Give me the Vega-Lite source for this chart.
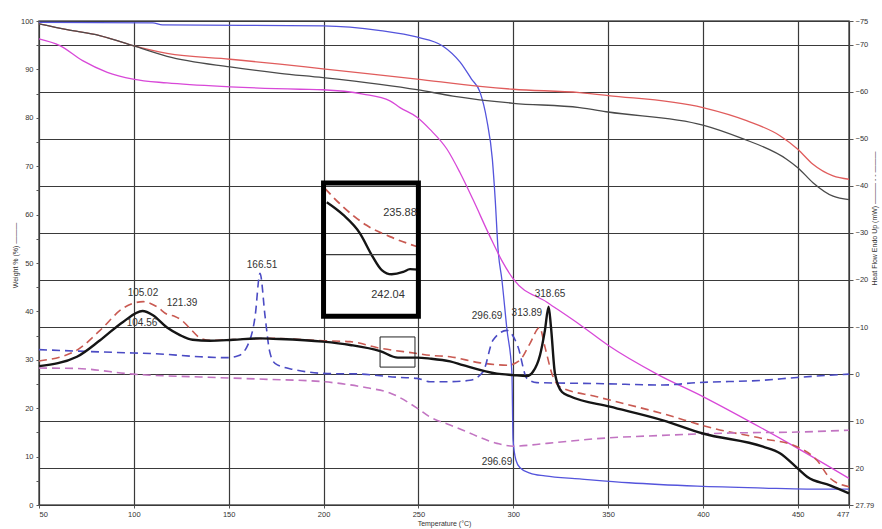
{
  "$schema": "https://vega.github.io/schema/vega-lite/v6.json",
  "width": 810,
  "height": 484,
  "autosize": {"type": "none"},
  "padding": {"left": 39, "top": 21, "right": 33, "bottom": 24},
  "background": "white",
  "config": {
    "font": "Liberation Sans",
    "view": {"stroke": "#555555", "strokeWidth": 1.5},
    "axis": {"labelColor": "#333333", "titleColor": "#333333", "tickColor": "#555555", "domain": false, "labelFontSize": 7.5, "titleFontSize": 7, "titleFontWeight": "normal"}
  },
  "datasets": {
    "tga": [
      {"T": 50, "W": 99.7, "s": "wt_blue"}, {"T": 110, "W": 99.6, "s": "wt_blue"}, {"T": 115, "W": 99.2, "s": "wt_blue"}, {"T": 200, "W": 99.0, "s": "wt_blue"}, {"T": 230, "W": 98.0, "s": "wt_blue"}, {"T": 249, "W": 96.7, "s": "wt_blue"}, {"T": 263, "W": 94.8, "s": "wt_blue"}, {"T": 272, "W": 91.5, "s": "wt_blue"}, {"T": 278, "W": 88.0, "s": "wt_blue"}, {"T": 282.5, "W": 85.3, "s": "wt_blue"}, {"T": 286, "W": 79.7, "s": "wt_blue"}, {"T": 289, "W": 71.4, "s": "wt_blue"}, {"T": 290.5, "W": 63.1, "s": "wt_blue"}, {"T": 292, "W": 52.8, "s": "wt_blue"}, {"T": 294, "W": 46.6, "s": "wt_blue"}, {"T": 296.7, "W": 36.2, "s": "wt_blue"}, {"T": 299.3, "W": 27.3, "s": "wt_blue"}, {"T": 299.9, "W": 13.5, "s": "wt_blue"}, {"T": 301.4, "W": 9.3, "s": "wt_blue"}, {"T": 303.6, "W": 7.7, "s": "wt_blue"}, {"T": 308.8, "W": 6.6, "s": "wt_blue"}, {"T": 316.7, "W": 6.0, "s": "wt_blue"}, {"T": 335, "W": 5.4, "s": "wt_blue"}, {"T": 361, "W": 4.6, "s": "wt_blue"}, {"T": 397, "W": 3.9, "s": "wt_blue"}, {"T": 432, "W": 3.5, "s": "wt_blue"}, {"T": 455, "W": 3.3, "s": "wt_blue"}, {"T": 477, "W": 3.3, "s": "wt_blue"},
      {"T": 50, "W": 99.4, "s": "wt_red"}, {"T": 64.8, "W": 98.2, "s": "wt_red"}, {"T": 82, "W": 97.0, "s": "wt_red"}, {"T": 99.6, "W": 94.9, "s": "wt_red"}, {"T": 117.5, "W": 93.3, "s": "wt_red"}, {"T": 150.7, "W": 92.1, "s": "wt_red"}, {"T": 177, "W": 91.1, "s": "wt_red"}, {"T": 199.7, "W": 90.1, "s": "wt_red"}, {"T": 249.3, "W": 88.0, "s": "wt_red"}, {"T": 282.5, "W": 86.5, "s": "wt_red"}, {"T": 300, "W": 85.9, "s": "wt_red"}, {"T": 335, "W": 85.2, "s": "wt_red"}, {"T": 350, "W": 84.6, "s": "wt_red"}, {"T": 400, "W": 82.1, "s": "wt_red"}, {"T": 423, "W": 79.4, "s": "wt_red"}, {"T": 440.6, "W": 76.3, "s": "wt_red"}, {"T": 450, "W": 73.5, "s": "wt_red"}, {"T": 458, "W": 70.4, "s": "wt_red"}, {"T": 468.6, "W": 68.0, "s": "wt_red"}, {"T": 477, "W": 67.3, "s": "wt_red"},
      {"T": 50, "W": 99.4, "s": "wt_black"}, {"T": 64.8, "W": 98.2, "s": "wt_black"}, {"T": 82, "W": 97.0, "s": "wt_black"}, {"T": 99.6, "W": 94.9, "s": "wt_black"}, {"T": 117.5, "W": 92.7, "s": "wt_black"}, {"T": 150.7, "W": 90.5, "s": "wt_black"}, {"T": 177, "W": 89.2, "s": "wt_black"}, {"T": 199.7, "W": 88.3, "s": "wt_black"}, {"T": 229.8, "W": 86.9, "s": "wt_black"}, {"T": 249.3, "W": 85.8, "s": "wt_black"}, {"T": 268.2, "W": 84.5, "s": "wt_black"}, {"T": 300, "W": 83.0, "s": "wt_black"}, {"T": 335, "W": 82.1, "s": "wt_black"}, {"T": 350, "W": 81.2, "s": "wt_black"}, {"T": 400, "W": 78.5, "s": "wt_black"}, {"T": 419.5, "W": 75.9, "s": "wt_black"}, {"T": 444.3, "W": 71.4, "s": "wt_black"}, {"T": 450, "W": 69.7, "s": "wt_black"}, {"T": 458, "W": 66.6, "s": "wt_black"}, {"T": 468.6, "W": 63.8, "s": "wt_black"}, {"T": 477, "W": 63.1, "s": "wt_black"},
      {"T": 50, "W": 96.3, "s": "wt_magenta"}, {"T": 61, "W": 94.9, "s": "wt_magenta"}, {"T": 73, "W": 91.8, "s": "wt_magenta"}, {"T": 86, "W": 89.4, "s": "wt_magenta"}, {"T": 99.6, "W": 88.0, "s": "wt_magenta"}, {"T": 117.5, "W": 87.2, "s": "wt_magenta"}, {"T": 150.7, "W": 86.4, "s": "wt_magenta"}, {"T": 187.6, "W": 85.9, "s": "wt_magenta"}, {"T": 199.7, "W": 85.8, "s": "wt_magenta"}, {"T": 220.8, "W": 84.9, "s": "wt_magenta"}, {"T": 235, "W": 83.5, "s": "wt_magenta"}, {"T": 240.3, "W": 82.1, "s": "wt_magenta"}, {"T": 249.3, "W": 80.1, "s": "wt_magenta"}, {"T": 256.1, "W": 77.6, "s": "wt_magenta"}, {"T": 265.1, "W": 73.5, "s": "wt_magenta"}, {"T": 271.9, "W": 68.7, "s": "wt_magenta"}, {"T": 278.8, "W": 63.1, "s": "wt_magenta"}, {"T": 287.7, "W": 55.5, "s": "wt_magenta"}, {"T": 294, "W": 50.5, "s": "wt_magenta"}, {"T": 300, "W": 46.7, "s": "wt_magenta"}, {"T": 317.8, "W": 41.9, "s": "wt_magenta"}, {"T": 335, "W": 37.3, "s": "wt_magenta"}, {"T": 350, "W": 33.0, "s": "wt_magenta"}, {"T": 376, "W": 27.0, "s": "wt_magenta"}, {"T": 400, "W": 22.4, "s": "wt_magenta"}, {"T": 423, "W": 17.6, "s": "wt_magenta"}, {"T": 450, "W": 11.7, "s": "wt_magenta"}, {"T": 477, "W": 5.5, "s": "wt_magenta"}
    ],
    "dsc": [
      {"T": 50, "H": -2.8, "s": "hf_red"}, {"T": 70, "H": -5.1, "s": "hf_red"}, {"T": 82.2, "H": -9.3, "s": "hf_red"}, {"T": 94.3, "H": -14.0, "s": "hf_red"}, {"T": 105.02, "H": -15.4, "s": "hf_red"}, {"T": 112.2, "H": -14.3, "s": "hf_red"}, {"T": 117.5, "H": -12.7, "s": "hf_red"}, {"T": 121.39, "H": -12.3, "s": "hf_red"}, {"T": 125, "H": -11.5, "s": "hf_red"}, {"T": 129.6, "H": -9.7, "s": "hf_red"}, {"T": 134.9, "H": -7.7, "s": "hf_red"}, {"T": 140.1, "H": -7.2, "s": "hf_red"}, {"T": 173.4, "H": -7.6, "s": "hf_red"}, {"T": 199.7, "H": -7.1, "s": "hf_red"}, {"T": 214, "H": -6.9, "s": "hf_red"}, {"T": 229.8, "H": -5.5, "s": "hf_red"}, {"T": 249.3, "H": -4.4, "s": "hf_red"}, {"T": 256.1, "H": -4.0, "s": "hf_red"}, {"T": 266.7, "H": -3.7, "s": "hf_red"}, {"T": 282.5, "H": -2.4, "s": "hf_red"}, {"T": 297.2, "H": -1.9, "s": "hf_red"}, {"T": 303.6, "H": -3.0, "s": "hf_red"}, {"T": 308.8, "H": -6.5, "s": "hf_red"}, {"T": 313.89, "H": -9.9, "s": "hf_red"}, {"T": 316.7, "H": -5.8, "s": "hf_red"}, {"T": 320.4, "H": -0.1, "s": "hf_red"}, {"T": 324.6, "H": 2.7, "s": "hf_red"}, {"T": 344.1, "H": 4.8, "s": "hf_red"}, {"T": 378.9, "H": 8.4, "s": "hf_red"}, {"T": 405.3, "H": 11.5, "s": "hf_red"}, {"T": 431.7, "H": 13.7, "s": "hf_red"}, {"T": 449.6, "H": 15.4, "s": "hf_red"}, {"T": 460.1, "H": 18.3, "s": "hf_red"}, {"T": 467, "H": 22.1, "s": "hf_red"}, {"T": 477, "H": 23.9, "s": "hf_red"},
      {"T": 50, "H": -5.2, "s": "hf_blue"}, {"T": 99.6, "H": -4.5, "s": "hf_blue"}, {"T": 108.5, "H": -4.4, "s": "hf_blue"}, {"T": 134.9, "H": -3.7, "s": "hf_blue"}, {"T": 149, "H": -3.5, "s": "hf_blue"}, {"T": 155, "H": -3.9, "s": "hf_blue"}, {"T": 159.6, "H": -5.8, "s": "hf_blue"}, {"T": 163.9, "H": -12.2, "s": "hf_blue"}, {"T": 166.51, "H": -21.4, "s": "hf_blue"}, {"T": 169.2, "H": -12.2, "s": "hf_blue"}, {"T": 171.5, "H": -5.0, "s": "hf_blue"}, {"T": 174.4, "H": -2.3, "s": "hf_blue"}, {"T": 184, "H": -1.0, "s": "hf_blue"}, {"T": 205, "H": -0.1, "s": "hf_blue"}, {"T": 214, "H": -0.1, "s": "hf_blue"}, {"T": 240.3, "H": 0.7, "s": "hf_blue"}, {"T": 249.3, "H": 0.9, "s": "hf_blue"}, {"T": 256.1, "H": 1.6, "s": "hf_blue"}, {"T": 266.7, "H": 1.6, "s": "hf_blue"}, {"T": 277.2, "H": 1.3, "s": "hf_blue"}, {"T": 284.1, "H": -0.5, "s": "hf_blue"}, {"T": 289.3, "H": -7.2, "s": "hf_blue"}, {"T": 296.69, "H": -9.3, "s": "hf_blue"}, {"T": 302.5, "H": -5.8, "s": "hf_blue"}, {"T": 307.2, "H": 0.9, "s": "hf_blue"}, {"T": 312.5, "H": 1.8, "s": "hf_blue"}, {"T": 344.1, "H": 2.0, "s": "hf_blue"}, {"T": 378.9, "H": 2.3, "s": "hf_blue"}, {"T": 396.9, "H": 1.8, "s": "hf_blue"}, {"T": 431.7, "H": 1.3, "s": "hf_blue"}, {"T": 449.6, "H": 0.7, "s": "hf_blue"}, {"T": 477, "H": 0.0, "s": "hf_blue"},
      {"T": 50, "H": -1.3, "s": "hf_magenta"}, {"T": 70, "H": -1.2, "s": "hf_magenta"}, {"T": 99.6, "H": 0.0, "s": "hf_magenta"}, {"T": 134.9, "H": 0.6, "s": "hf_magenta"}, {"T": 170.2, "H": 1.1, "s": "hf_magenta"}, {"T": 199.7, "H": 1.6, "s": "hf_magenta"}, {"T": 222.9, "H": 2.9, "s": "hf_magenta"}, {"T": 235, "H": 4.0, "s": "hf_magenta"}, {"T": 249.3, "H": 7.2, "s": "hf_magenta"}, {"T": 256.1, "H": 9.1, "s": "hf_magenta"}, {"T": 266.7, "H": 10.8, "s": "hf_magenta"}, {"T": 273.5, "H": 11.9, "s": "hf_magenta"}, {"T": 291.4, "H": 14.7, "s": "hf_magenta"}, {"T": 299.9, "H": 15.3, "s": "hf_magenta"}, {"T": 317.8, "H": 14.7, "s": "hf_magenta"}, {"T": 344.1, "H": 13.7, "s": "hf_magenta"}, {"T": 378.9, "H": 13.0, "s": "hf_magenta"}, {"T": 414.3, "H": 12.5, "s": "hf_magenta"}, {"T": 449.6, "H": 12.3, "s": "hf_magenta"}, {"T": 477, "H": 11.9, "s": "hf_magenta"}
    ],
    "dscBlack": [
      {"T": 50, "H": -1.7}, {"T": 70, "H": -3.7}, {"T": 82.2, "H": -7.2}, {"T": 94.3, "H": -11.1}, {"T": 104.56, "H": -13.4}, {"T": 110.1, "H": -12.5}, {"T": 117.5, "H": -9.9}, {"T": 124.3, "H": -8.3}, {"T": 131, "H": -7.3}, {"T": 140.1, "H": -7.1}, {"T": 152.3, "H": -7.3}, {"T": 166.5, "H": -7.6}, {"T": 173.4, "H": -7.5}, {"T": 199.7, "H": -6.9}, {"T": 214, "H": -6.2}, {"T": 229.8, "H": -4.9}, {"T": 239.2, "H": -3.5}, {"T": 249.3, "H": -3.5}, {"T": 256.1, "H": -3.3}, {"T": 266.7, "H": -2.7}, {"T": 273.5, "H": -1.9}, {"T": 291.4, "H": -0.1}, {"T": 299.9, "H": 0.2}, {"T": 307.2, "H": 0.4}, {"T": 310.4, "H": -0.5}, {"T": 314.1, "H": -4.0}, {"T": 316.7, "H": -9.3}, {"T": 318.65, "H": -14.3}, {"T": 319.9, "H": -10.0}, {"T": 322.0, "H": -0.1}, {"T": 325.7, "H": 3.8}, {"T": 329.9, "H": 4.7}, {"T": 351, "H": 6.9}, {"T": 378.9, "H": 9.8}, {"T": 400, "H": 12.6}, {"T": 431.7, "H": 15.4}, {"T": 440.6, "H": 16.8}, {"T": 449.6, "H": 19.9}, {"T": 454.9, "H": 21.8}, {"T": 467, "H": 23.6}, {"T": 477, "H": 25.3}
    ],
    "insetRed": [
      {"T": 200.8, "H": -39.4}, {"T": 210.4, "H": -35.5}, {"T": 222.7, "H": -31.6}, {"T": 235, "H": -29.2}, {"T": 249.9, "H": -27.0}
    ],
    "insetBlack": [
      {"T": 201.7, "H": -36.5}, {"T": 210.4, "H": -33.8}, {"T": 219.2, "H": -29.9}, {"T": 225.4, "H": -25.3}, {"T": 230.7, "H": -22.1}, {"T": 235.9, "H": -21.2}, {"T": 242, "H": -21.7}, {"T": 245.6, "H": -22.3}, {"T": 249.9, "H": -22.2}
    ],
    "box": [{"T": 200, "T2": 250, "H": -40.6, "H2": -12.3}],
    "boxLine": [{"T": 200, "T2": 250, "H": -25.4}],
    "smallBox": [{"T": 229.8, "T2": 248.2, "H": -7.9, "H2": -1.5}],
    "labels": [
      {"T": 104.8, "H": -17.2, "label": "105.02"},
      {"T": 125.4, "H": -15.1, "label": "121.39"},
      {"T": 104.3, "H": -10.8, "label": "104.56"},
      {"T": 167.6, "H": -23.1, "label": "166.51"},
      {"T": 286.2, "H": -12.3, "label": "296.69"},
      {"T": 307.2, "H": -13.0, "label": "313.89"},
      {"T": 319.4, "H": -17.0, "label": "318.65"},
      {"T": 291.4, "H": 18.6, "label": "296.69"}
    ],
    "insetLabels": [
      {"T": 240.3, "H": -34.3, "label": "235.88"},
      {"T": 234, "H": -16.8, "label": "242.04"}
    ]
  },
  "layer": [
    {
      "data": {"name": "tga"},
      "mark": {"type": "line", "strokeWidth": 1.3, "interpolate": "monotone"},
      "encoding": {
        "x": {"field": "T", "type": "quantitative", "title": "Temperature (°C)", "scale": {"domain": [50, 477], "nice": false, "zero": false},
          "axis": {"values": [50, 100, 150, 200, 250, 300, 350, 400, 450, 477], "grid": true, "gridColor": "#3a3a3a", "gridWidth": 1.2, "tickSize": 3, "labelPadding": 2, "titlePadding": 2, "titleColor": "#333333"}},
        "y": {"field": "W", "type": "quantitative", "title": "Weight % (%) ———", "scale": {"domain": [0, 100], "nice": false, "zero": false},
          "axis": {"orient": "left", "values": [0, 5, 10, 15, 20, 25, 30, 35, 40, 45, 50, 55, 60, 65, 70, 75, 80, 85, 90, 95, 100], "labelExpr": "datum.value % 10 === 0 ? datum.label : ''", "grid": false, "tickSize": 3, "labelPadding": 3, "titleX": -24, "titleY": 234, "titleBaseline": "middle", "titleColor": "#333333"}},
        "color": {"field": "s", "type": "nominal", "legend": null,
          "scale": {"domain": ["wt_blue", "wt_red", "wt_black", "wt_magenta", "hf_blue", "hf_red", "hf_magenta"], "range": ["#5454dc", "#e05c5c", "#4a4a4a", "#d848d8", "#4b4bc4", "#c95a52", "#c274c2"]}}
      }
    },
    {
      "layer": [
        {
          "data": {"name": "dsc"},
          "mark": {"type": "line", "strokeWidth": 1.6, "strokeDash": [8, 5], "interpolate": "monotone"},
          "encoding": {
            "x": {"field": "T", "type": "quantitative", "title": "Temperature (°C)", "scale": {"domain": [50, 477], "nice": false, "zero": false}},
            "y": {"field": "H", "type": "quantitative", "title": "Heat Flow Endo Up (mW) ——— - - ———", "scale": {"domain": [-75, 27.79], "nice": false, "zero": false, "reverse": true},
              "axis": {"orient": "right", "values": [-75, -70, -60, -50, -40, -30, -20, -10, 0, 10, 20, 27.79], "labelExpr": "datum.value === 27.79 ? '27.79' : format(datum.value, 'd')", "grid": true, "gridColor": "#3a3a3a", "gridWidth": 1.2, "tickSize": 4, "labelPadding": 2, "titleAngle": 270, "titleX": 25, "titleY": 197, "titleBaseline": "middle", "titleColor": "#333333"}},
            "color": {"field": "s", "type": "nominal", "legend": null,
              "scale": {"domain": ["wt_blue", "wt_red", "wt_black", "wt_magenta", "hf_blue", "hf_red", "hf_magenta"], "range": ["#5454dc", "#e05c5c", "#4a4a4a", "#d848d8", "#4b4bc4", "#c95a52", "#c274c2"]}}
          }
        },
        {
          "data": {"name": "dscBlack"},
          "mark": {"type": "line", "strokeWidth": 2.4, "color": "#151515", "interpolate": "monotone"},
          "encoding": {
            "x": {"field": "T", "type": "quantitative", "title": "Temperature (°C)"},
            "y": {"field": "H", "type": "quantitative", "title": "Heat Flow Endo Up (mW) ——— - - ———"}
          }
        },
        {
          "data": {"name": "insetRed"},
          "mark": {"type": "line", "strokeWidth": 1.8, "strokeDash": [8, 5], "color": "#c95a52", "interpolate": "monotone"},
          "encoding": {
            "x": {"field": "T", "type": "quantitative", "title": "Temperature (°C)"},
            "y": {"field": "H", "type": "quantitative", "title": "Heat Flow Endo Up (mW) ——— - - ———"}
          }
        },
        {
          "data": {"name": "insetBlack"},
          "mark": {"type": "line", "strokeWidth": 2.4, "color": "#151515", "interpolate": "monotone"},
          "encoding": {
            "x": {"field": "T", "type": "quantitative", "title": "Temperature (°C)"},
            "y": {"field": "H", "type": "quantitative", "title": "Heat Flow Endo Up (mW) ——— - - ———"}
          }
        },
        {
          "data": {"name": "boxLine"},
          "mark": {"type": "rule", "strokeWidth": 1.2, "color": "#3a3a3a"},
          "encoding": {
            "x": {"field": "T", "type": "quantitative", "title": "Temperature (°C)"},
            "x2": {"field": "T2"},
            "y": {"field": "H", "type": "quantitative", "title": "Heat Flow Endo Up (mW) ——— - - ———"}
          }
        },
        {
          "data": {"name": "box"},
          "mark": {"type": "rect", "fill": null, "fillOpacity": 0, "stroke": "#000000", "strokeWidth": 5},
          "encoding": {
            "x": {"field": "T", "type": "quantitative", "title": "Temperature (°C)"},
            "x2": {"field": "T2"},
            "y": {"field": "H", "type": "quantitative", "title": "Heat Flow Endo Up (mW) ——— - - ———"},
            "y2": {"field": "H2"}
          }
        },
        {
          "data": {"name": "smallBox"},
          "mark": {"type": "rect", "fill": null, "fillOpacity": 0, "stroke": "#222222", "strokeWidth": 1},
          "encoding": {
            "x": {"field": "T", "type": "quantitative", "title": "Temperature (°C)"},
            "x2": {"field": "T2"},
            "y": {"field": "H", "type": "quantitative", "title": "Heat Flow Endo Up (mW) ——— - - ———"},
            "y2": {"field": "H2"}
          }
        },
        {
          "data": {"name": "labels"},
          "mark": {"type": "text", "fontSize": 10, "color": "#333333", "align": "center", "baseline": "middle"},
          "encoding": {
            "x": {"field": "T", "type": "quantitative", "title": "Temperature (°C)"},
            "y": {"field": "H", "type": "quantitative", "title": "Heat Flow Endo Up (mW) ——— - - ———"},
            "text": {"field": "label"}
          }
        },
        {
          "data": {"name": "insetLabels"},
          "mark": {"type": "text", "fontSize": 11, "color": "#333333", "align": "center", "baseline": "middle"},
          "encoding": {
            "x": {"field": "T", "type": "quantitative", "title": "Temperature (°C)"},
            "y": {"field": "H", "type": "quantitative", "title": "Heat Flow Endo Up (mW) ——— - - ———"},
            "text": {"field": "label"}
          }
        }
      ]
    }
  ],
  "resolve": {"scale": {"y": "independent"}}
}
